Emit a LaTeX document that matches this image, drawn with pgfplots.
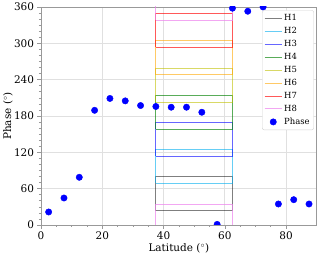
\documentclass[border=0pt]{standalone}
\usepackage{fontspec}
\setmainfont{DejaVu Serif}
\usepackage{pgfplots}
\pgfplotsset{compat=1.18}
\definecolor{mgreen}{rgb}{0,0.5,0}
\definecolor{molive}{rgb}{0.75,0.75,0}
\definecolor{morange}{rgb}{1,0.65,0}
\definecolor{mviolet}{rgb}{0.93,0.51,0.93}
\definecolor{spine}{gray}{0.6}
\definecolor{gridc}{gray}{0.88}
\begin{document}
\begin{tikzpicture}
\begin{axis}[
  scale only axis, width=275.7bp, height=218bp,
  at={(0,0)}, anchor=south west,
  xmin=0, xmax=90, ymin=0, ymax=360,
  xtick={0,20,40,60,80}, ytick={0,60,120,180,240,300,360},
  minor x tick num=3, minor y tick num=5,
  tick pos=left, tick align=outside,
  major tick length=3.5bp, minor tick length=2bp,
  every tick/.style={spine, line width=0.6pt},
  axis line style={spine, line width=0.8pt},
  grid=major, major grid style={gridc, line width=0.8pt},
  /pgf/number format/assume math mode=true,
  ticklabel style={font=\fontsize{10.5}{12}\selectfont},
  label style={font=\fontsize{10.5}{12}\selectfont},
  xlabel={Latitude ($^\circ$)}, ylabel={Phase ($^\circ$)},
  xlabel style={yshift=3bp}, ylabel style={yshift=-5.5bp},
  clip marker paths=true,
  legend style={at={(0.99,0.985)}, anchor=north east, font=\fontsize{8.5}{9.5}\selectfont,
    draw=gray!35, rounded corners=2bp, fill=white,
    row sep=1.2bp, inner sep=2bp},
  legend cell align=left,
]
\addplot[black, opacity=0.5, line width=0.9pt] coordinates {(37.5,23.7) (62.5,23.7) (62.5,79.8) (37.5,79.8) (37.5,23.7)};
\addlegendentry{H1}
\addplot[cyan, opacity=0.6, line width=0.9pt] coordinates {(37.5,68.8) (62.5,68.8) (62.5,124.4) (37.5,124.4) (37.5,68.8)};
\addlegendentry{H2}
\addplot[blue, opacity=0.6, line width=0.9pt] coordinates {(37.5,113.4) (62.5,113.4) (62.5,169.0) (37.5,169.0) (37.5,113.4)};
\addlegendentry{H3}
\addplot[mgreen, opacity=0.65, line width=0.9pt] coordinates {(37.5,158.5) (62.5,158.5) (62.5,214.1) (37.5,214.1) (37.5,158.5)};
\addlegendentry{H4}
\addplot[molive, opacity=0.6, line width=0.9pt] coordinates {(37.5,203.1) (62.5,203.1) (62.5,259.3) (37.5,259.3) (37.5,203.1)};
\addlegendentry{H5}
\addplot[morange, opacity=0.6, line width=0.9pt] coordinates {(37.5,248.2) (62.5,248.2) (62.5,304.4) (37.5,304.4) (37.5,248.2)};
\addlegendentry{H6}
\addplot[red, opacity=0.65, line width=0.9pt] coordinates {(37.5,293.4) (62.5,293.4) (62.5,349.5) (37.5,349.5) (37.5,293.4)};
\addlegendentry{H7}
\addplot[mviolet, opacity=0.7, line width=0.9pt] coordinates {(37.5,338.0) (62.5,338.0) (62.5,394.0) (37.5,394.0) (37.5,338.0)};
\addlegendentry{H8}
\addplot[mviolet, opacity=0.7, line width=0.9pt, forget plot] coordinates {(37.5,-22.0) (62.5,-22.0) (62.5,34.7) (37.5,34.7) (37.5,-22.0)};
\addplot[only marks, mark=*, mark size=3.2bp, blue, mark options={draw=blue, fill=blue}] coordinates {
(2.5,21.5) (7.5,44.6) (12.5,78.8) (17.5,189.4) (22.5,209) (27.5,205) (32.5,197.3)
(37.5,195.7) (42.5,194.5) (47.5,194.5) (52.5,186.2) (57.5,1) (62.5,358) (67.5,353)
(72.5,360) (77.5,34.7) (82.5,41.8) (87.5,34.7)};
\addlegendentry{Phase}
\end{axis}
\pgfresetboundingbox
\path (-41bp,-30bp) rectangle (279bp,225bp);
\end{tikzpicture}
\end{document}
